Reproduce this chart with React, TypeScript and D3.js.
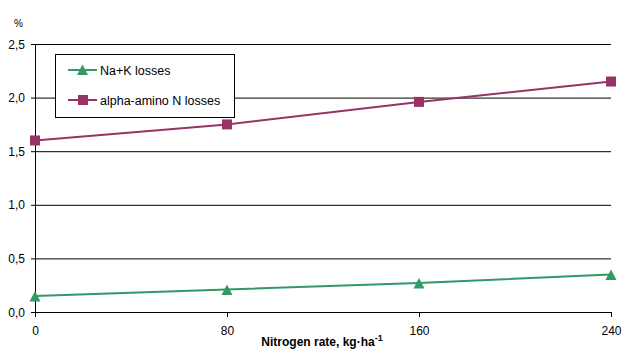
import React from "react";
import * as d3 from "d3";

const categories = [0, 80, 160, 240];
const naK = [0.15, 0.21, 0.27, 0.35];
const alphaAmino = [1.6, 1.75, 1.96, 2.15];
const yTicks = [0, 0.5, 1.0, 1.5, 2.0, 2.5];
const seriesNames = ["Na+K losses", "alpha-amino N losses"];
const colors = ["#339966", "#993366"];

export default function App() {
  const W = 628, H = 359;
  const x = d3.scaleLinear().domain([0, 240]).range([35, 611]);
  const y = d3.scaleLinear().domain([0, 2.5]).range([312, 44]);
  const line = d3.line<number>().x((_, i) => x(categories[i])).y((d) => y(d));
  const fmt = (v: number) => v.toFixed(1).replace(".", ",");
  const font = "'Liberation Sans', Arial, sans-serif";
  const tri = (cx: number, cy: number) => `M${cx},${cy - 5}L${cx + 5.5},${cy + 5.5}L${cx - 5.5},${cy + 5.5}Z`;
  return (
    <svg width={W} height={H} style={{ position: "absolute", left: 0, top: 0, fontFamily: font }}>
      <rect width={W} height={H} fill="#fff" />
      {yTicks.map((t) => (
        <g key={t}>
          {t > 0 && <line x1={35} x2={611} y1={y(t) + 0.5} y2={y(t) + 0.5} stroke="#000" />}
          <line x1={31} x2={35} y1={y(t) + 0.5} y2={y(t) + 0.5} stroke="#000" />
          <text x={25} y={y(t) + 4.5} fontSize={12} textAnchor="end">{fmt(t)}</text>
        </g>
      ))}
      <line x1={35.5} x2={35.5} y1={y(2.5)} y2={y(0)} stroke="#000" />
      <line x1={35} x2={611} y1={y(0) + 0.5} y2={y(0) + 0.5} stroke="#000" />
      {categories.map((c) => (
        <g key={c}>
          <line x1={x(c) + 0.5} x2={x(c) + 0.5} y1={y(0)} y2={y(0) + 5} stroke="#000" />
          <text x={x(c) + 0.5} y={335} fontSize={12} textAnchor="middle">{c}</text>
        </g>
      ))}
      <text x={14} y={27} fontSize={10}>%</text>
      <text x={322} y={346} fontSize={12} fontWeight="bold" textAnchor="middle">
        Nitrogen rate, kg·ha<tspan dy={-5} fontSize={9}>-1</tspan>
      </text>
      <path d={line(naK) ?? ""} fill="none" stroke={colors[0]} strokeWidth={2} />
      <path d={line(alphaAmino) ?? ""} fill="none" stroke={colors[1]} strokeWidth={2} />
      {naK.map((v, i) => (
        <path key={i} d={tri(x(categories[i]), y(v))} fill={colors[0]} />
      ))}
      {alphaAmino.map((v, i) => {
        const cx = x(categories[i]), cy = y(v);
        return <rect key={i} x={cx - 5} y={cy - 5} width={10} height={10} fill={colors[1]} />;
      })}
      <rect x={55.5} y={54.5} width={179} height={63} fill="#fff" stroke="#000" />
      <line x1={68} x2={97} y1={70} y2={70} stroke={colors[0]} strokeWidth={2} />
      <path d={tri(82.5, 69.5)} fill={colors[0]} />
      <text x={100} y={74.5} fontSize={12.5}>{seriesNames[0]}</text>
      <line x1={68} x2={97} y1={100} y2={100} stroke={colors[1]} strokeWidth={2} />
      <rect x={78} y={95} width={10} height={10} fill={colors[1]} />
      <text x={100} y={104.5} fontSize={12.5}>{seriesNames[1]}</text>
    </svg>
  );
}
